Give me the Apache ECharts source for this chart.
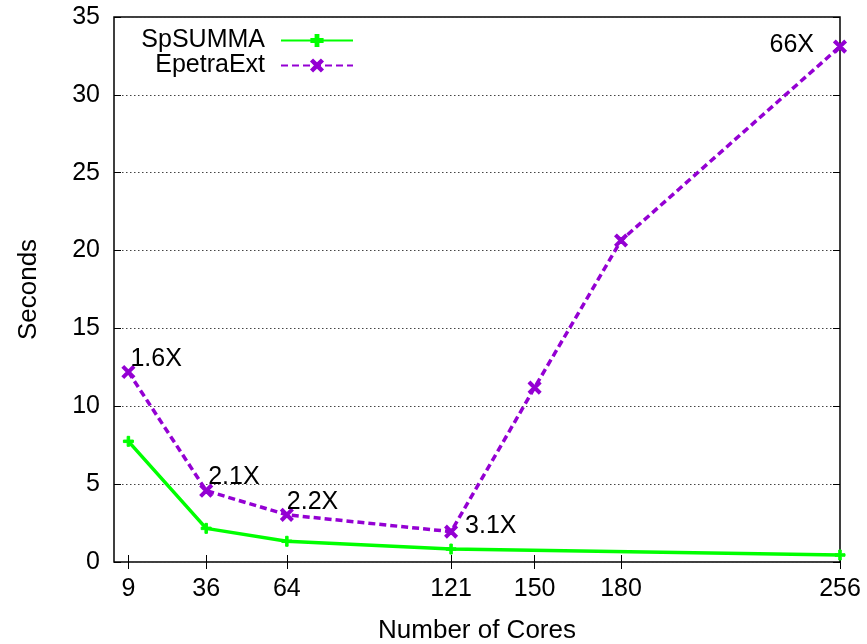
<!DOCTYPE html>
<html>
<head>
<meta charset="utf-8">
<script src="https://cdn.jsdelivr.net/npm/echarts@6/dist/echarts.min.js"></script>
<style>
  html, body { margin: 0; padding: 0; background: #fff; }
  #chart { width: 867px; height: 644px; }
</style>
</head>
<body>
<div id="chart"></div>
<script>
// x ticks (cores) and the two series
let coreTicks = [9, 36, 64, 121, 150, 180, 256]
let spsummaCores = [9, 36, 64, 121, 256]
let spsummaSecs = [7.75, 2.16, 1.33, 0.83, 0.45]
let epetraCores = [9, 36, 64, 121, 150, 180, 256]
let epetraSecs = [12.2, 4.58, 3.03, 1.95, 11.2, 20.65, 33.1]
let speedupText = ['1.6X', '2.1X', '2.2X', '3.1X', '', '', '66X']

let chart = echarts.init(document.getElementById('chart'))
let font = 'Liberation Sans'

// where each speedup note sits next to its point
let noteStyle = [
    { align: 'left', offset: [2, -13] },
    { align: 'left', offset: [2, -14] },
    { align: 'left', offset: [0, -13] },
    { align: 'left', offset: [14, -6] },
    null,
    null,
    { align: 'right', offset: [-26, -1] }
]

let plusIcon = 'path://M3,0H5V3H8V5H5V8H3V5H0V3H3Z'
let crossIcon = 'path://M0,1.5L1.5,0L5,3.5L8.5,0L10,1.5L6.5,5L10,8.5L8.5,10L5,6.5L1.5,10L0,8.5L3.5,5Z'

let epetraData = epetraCores.map((c, i) => {
    let item = { value: [c, epetraSecs[i]] }
    if (speedupText[i]) {
        item.label = {
            show: true,
            position: 'inside',
            align: noteStyle[i].align,
            verticalAlign: 'middle',
            offset: noteStyle[i].offset,
            formatter: speedupText[i],
            color: '#000',
            fontFamily: font,
            fontSize: 25
        }
    }
    return item
})

let legendBase = {
    orient: 'vertical',
    right: 508,
    align: 'right',
    itemWidth: 72,
    itemHeight: 14,
    textStyle: { fontFamily: font, fontSize: 25, color: '#000', padding: [0, 11, 0, 0], lineHeight: 24 }
}

let option = {
    backgroundColor: '#fff',
    animation: false,
    grid: {
        left: 114, right: 27, top: 17, bottom: 82,
        outerBoundsMode: 'none',
        show: true, borderColor: '#000', borderWidth: 1.5
    },
    legend: [
        Object.assign({}, legendBase, { top: 23, data: ['SpSUMMA'] }),
        Object.assign({}, legendBase, { top: 48, data: ['EpetraExt'] })
    ],
    xAxis: [{
        type: 'value',
        min: 4,
        max: 256,
        name: 'Number of Cores',
        nameLocation: 'middle',
        nameGap: 56,
        nameTextStyle: { fontFamily: font, fontSize: 26, color: '#000' },
        axisLine: { show: false },
        axisTick: { inside: true, length: 7, customValues: coreTicks, lineStyle: { color: '#000' } },
        axisLabel: { customValues: coreTicks, margin: 15, fontFamily: font, fontSize: 25, color: '#000' },
        splitLine: { show: false }
    }, {
        type: 'value',
        position: 'top',
        min: 4,
        max: 256,
        axisLine: { show: false },
        axisTick: { inside: true, length: 7, customValues: coreTicks, lineStyle: { color: '#000' } },
        axisLabel: { show: false, customValues: coreTicks },
        splitLine: { show: false }
    }],
    yAxis: [{
        type: 'value',
        min: 0,
        max: 35,
        interval: 5,
        name: 'Seconds',
        nameLocation: 'middle',
        nameGap: 72,
        nameTextStyle: { fontFamily: font, fontSize: 26, color: '#000' },
        axisLine: { show: false },
        axisTick: { inside: true, length: 7, lineStyle: { color: '#000' } },
        axisLabel: { margin: 14, fontFamily: font, fontSize: 25, color: '#000' },
        splitLine: { show: true, lineStyle: { color: '#444', width: 1, type: [1.5, 2.5] } }
    }, {
        type: 'value',
        position: 'right',
        min: 0,
        max: 35,
        interval: 5,
        axisLine: { show: false },
        axisTick: { inside: true, length: 7, lineStyle: { color: '#000' } },
        axisLabel: { show: false },
        splitLine: { show: false }
    }],
    series: [{
        name: 'SpSUMMA',
        type: 'line',
        data: spsummaCores.map((c, i) => [c, spsummaSecs[i]]),
        symbol: plusIcon,
        symbolSize: 10,
        showAllSymbol: true,
        color: '#00ff00',
        itemStyle: { color: '#00ff00', borderColor: '#00ff00', borderWidth: 1 },
        lineStyle: { color: '#00ff00', width: 3.5 },
        z: 3
    }, {
        name: 'EpetraExt',
        type: 'line',
        data: epetraData,
        symbol: crossIcon,
        symbolSize: 12,
        showAllSymbol: true,
        color: '#9400d3',
        itemStyle: { color: '#9400d3', borderColor: '#9400d3', borderWidth: 1.5 },
        lineStyle: { color: '#9400d3', width: 3.5, type: [7, 4] },
        z: 4
    }]
}

chart.setOption(option)
window.addEventListener('resize', function () {
    chart.resize()
})
</script>
</body>
</html>
